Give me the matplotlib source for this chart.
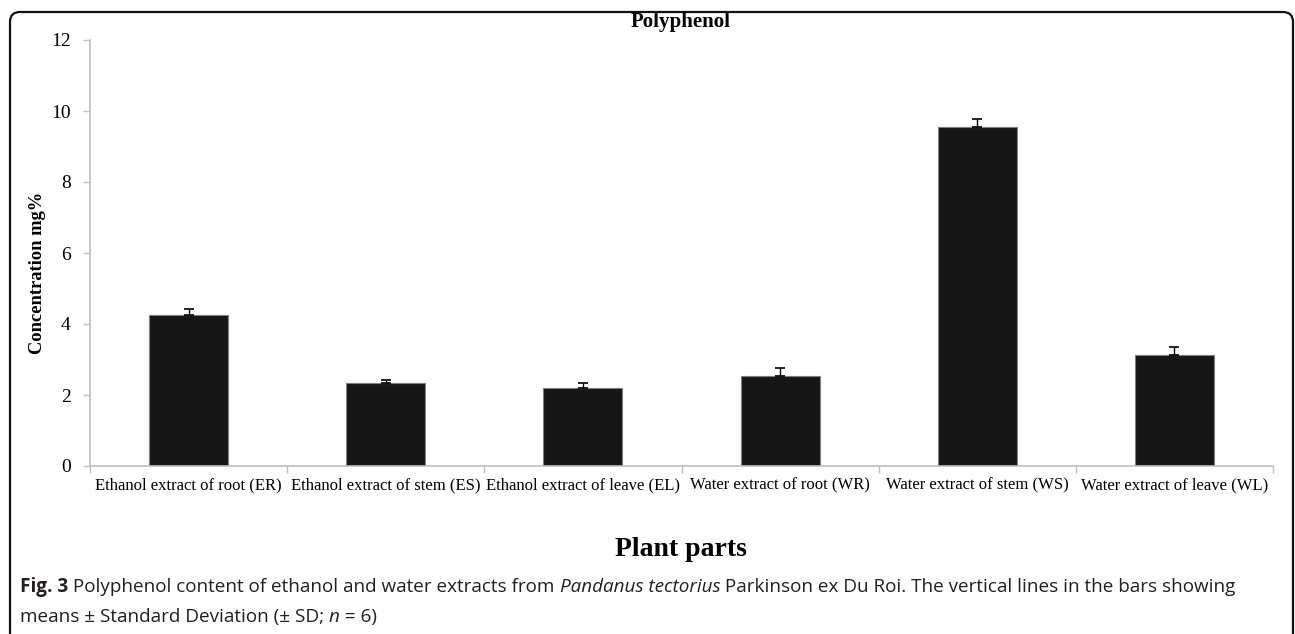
import matplotlib
matplotlib.use('Agg')

import matplotlib.pyplot as plt
from matplotlib.patches import FancyBboxPatch
from matplotlib.transforms import IdentityTransform
import numpy as np

# data
categories = ['Ethanol extract of root (ER)', 'Ethanol extract of stem (ES)',
              'Ethanol extract of leave (EL)', 'Water extract of root (WR)',
              'Water extract of stem (WS)', 'Water extract of leave (WL)']
means = [4.25, 2.35, 2.20, 2.53, 9.55, 3.12]
sds = [0.17, 0.08, 0.15, 0.22, 0.22, 0.23]
yticks = [0, 2, 4, 6, 8, 10, 12]

serif = 'Liberation Serif'
gray = '#bfbfbf'

fig = plt.figure(figsize=(12.95, 6.34), dpi=100)
ax = fig.add_axes([90/1295, 1 - 466/634, (1273-90)/1295, (466-40)/634])

x = np.arange(len(categories))
ax.bar(x, means, width=0.4, color='#161616', edgecolor='#7f7f7f', linewidth=0.8, zorder=2)
ax.errorbar(x, means, yerr=[np.zeros(len(sds)), sds], fmt='none', ecolor='black',
            elinewidth=1.0, capsize=3.3, capthick=1.2, zorder=3)

ax.set_xlim(-0.5, len(categories) - 0.5)
ax.set_ylim(0, 12)
ax.set_yticks(yticks)
ax.set_yticklabels([str(t) for t in yticks], fontfamily=serif, fontsize=14)
ax.set_xticks(x)
ax.set_xticklabels(categories, fontfamily=serif, fontsize=12)
ax.tick_params(axis='x', length=0, pad=8)
ax.set_xticks(np.arange(len(categories) + 1) - 0.5, minor=True)
ax.tick_params(axis='x', which='minor', length=5, color=gray, width=1)
ax.tick_params(axis='y', length=5, color=gray, width=1, pad=9)

for s in ['top', 'right']:
    ax.spines[s].set_visible(False)
for s in ['left', 'bottom']:
    ax.spines[s].set_color(gray)
    ax.spines[s].set_linewidth(1.2)

fig.text(681/1295, 1 - 22/634, 'Polyphenol', ha='center', va='center',
         fontfamily=serif, fontweight='bold', fontsize=15)
fig.text(38/1295, 1 - 273/634, 'Concentration mg%', ha='center', va='center',
         rotation=90, fontfamily=serif, fontweight='bold', fontsize=13.3)
fig.text(681/1295, 1 - 550/634, 'Plant parts', ha='center', va='center',
         fontfamily=serif, fontweight='bold', fontsize=20)

# rounded frame around the figure
frame = FancyBboxPatch((10, -20), 1283, 642, boxstyle='round,pad=0,rounding_size=10',
                       transform=IdentityTransform(), fill=False, edgecolor='#111111',
                       linewidth=1.6)
fig.add_artist(frame)

# caption, pieces with different styles placed one after another
cap_font = 'Open Sans'
cap_size = 13.6
lines = [
    [('Fig. 3', 'bold', 'normal'),
     (' Polyphenol content of ethanol and water extracts from ', 'normal', 'normal'),
     ('Pandanus tectorius', 'normal', 'italic'),
     (' Parkinson ex Du Roi. The vertical lines in the bars showing', 'normal', 'normal')],
    [('means \u00b1 Standard Deviation (\u00b1 SD; ', 'normal', 'normal'),
     ('n', 'normal', 'italic'),
     (' = 6)', 'normal', 'normal')],
]
line_y = [587, 617]

fig.canvas.draw()
renderer = fig.canvas.get_renderer()
for parts, ly in zip(lines, line_y):
    xpos = 20
    for txt, weight, style in parts:
        t = fig.text(xpos/1295, 1 - ly/634, txt, ha='left', va='center',
                     fontfamily=cap_font, fontsize=cap_size, fontweight=weight,
                     fontstyle=style, color='#231f20')
        bb = t.get_window_extent(renderer)
        xpos += bb.width

fig.savefig('out.png', dpi=100)
